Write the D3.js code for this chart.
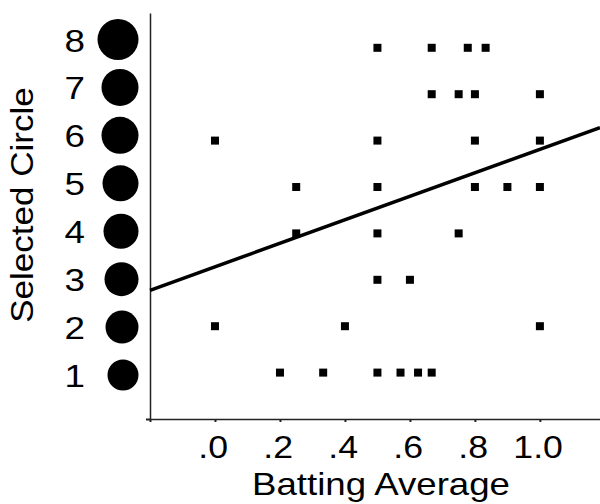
<!DOCTYPE html>
<html>
<head>
<meta charset="utf-8">
<script src="https://cdn.jsdelivr.net/npm/d3@7"></script>
<style>
  body { margin: 0; background: #fff; }
  svg { display: block; font-family: "Liberation Sans", Arial, sans-serif; }
</style>
</head>
<body>
<div id="chart"></div>
<script>
// data
const battingAverage = [
  0.5, 0.667, 0.778, 0.833,
  0.667, 0.75, 0.8, 1.0,
  0.0, 0.5, 0.8, 1.0,
  0.25, 0.5, 0.8, 0.9, 1.0,
  0.25, 0.5, 0.75,
  0.5, 0.6,
  0.0, 0.4, 1.0,
  0.2, 0.333, 0.5, 0.571, 0.625, 0.667
];
const selectedCircle = [
  8, 8, 8, 8,
  7, 7, 7, 7,
  6, 6, 6, 6,
  5, 5, 5, 5, 5,
  4, 4, 4,
  3, 3,
  2, 2, 2,
  1, 1, 1, 1, 1, 1
];
// fitted line as drawn in the picture
const fitIntercept = 3.28;
const fitSlope = 2.53;

// circle key: circle number and relative circle size
const circleIds = [1, 2, 3, 4, 5, 6, 7, 8];
const circleSizes = [31, 33, 34, 35, 36, 37, 37, 41];

const xTicks = [-0.2, 0, 0.2, 0.4, 0.6, 0.8, 1.0];

const width = 600;
const height = 504;
const plot = {left: 150, right: 600, top: 13, bottom: 419};

const svg = d3.select("#chart").append("svg")
  .attr("width", width)
  .attr("height", height);

// scales
const x = d3.scaleLinear().domain([-0.2, 1.185]).range([plot.left, plot.right]);
const y = d3.scaleLinear().domain([0, 8.75]).range([plot.bottom, plot.top]);
const keyY = d3.scaleLinear().domain([1, 8]).range([375, 39.5]);
const r = d3.scaleLinear().domain([0, 41]).range([0, 20.5]);

const fmt = d => d < 0 ? "" : (d >= 1 ? d3.format(".1f")(d) : d3.format(".1f")(d).replace(/^0/, ""));

// x axis
const xAxis = d3.axisBottom(x)
  .tickValues(xTicks)
  .tickSize(3)
  .tickSizeOuter(0)
  .tickFormat(fmt);

const gx = svg.append("g")
  .attr("transform", `translate(0,${plot.bottom})`)
  .call(xAxis);

gx.select(".domain").attr("stroke", "#222").attr("stroke-width", 1.5);
gx.selectAll(".tick line").attr("stroke", "#222").attr("stroke-width", 2);
gx.selectAll(".tick text")
  .attr("y", 39)
  .attr("dy", 0)
  .attr("dx", -2)
  .attr("fill", "#000")
  .attr("font-size", 31)
  .attr("transform", "scale(1.15,1)")
  .attr("font-family", "Liberation Sans, Arial, sans-serif");

// y axis line with the corner tick only
const yAxis = d3.axisLeft(y)
  .tickValues([0])
  .tickSize(4)
  .tickSizeOuter(0)
  .tickFormat("");

const gy = svg.append("g")
  .attr("transform", `translate(${plot.left},0)`)
  .call(yAxis);

gy.select(".domain").attr("stroke", "#222").attr("stroke-width", 1.5);
gy.selectAll(".tick line").attr("stroke", "#222").attr("stroke-width", 2);

// circle key on the left
const key = svg.append("g").attr("class", "key");

key.selectAll("circle")
  .data(circleIds)
  .enter().append("circle")
    .attr("cx", (d, i) => 138.5 - r(circleSizes[i]))
    .attr("cy", d => keyY(d))
    .attr("r", (d, i) => r(circleSizes[i]))
    .attr("fill", "#000");

key.selectAll("text")
  .data(circleIds)
  .enter().append("text")
    .attr("transform", d => `translate(85,${keyY(d) + 12}) scale(1.15,1)`)
    .attr("text-anchor", "end")
    .attr("font-size", 32)
    .attr("fill", "#000")
    .text(d => d);

// fitted line
const fitLine = d3.line()
  .x(d => x(d))
  .y(d => y(fitIntercept + fitSlope * d));

svg.append("path")
  .datum(x.domain())
  .attr("d", fitLine)
  .attr("fill", "none")
  .attr("stroke", "#000")
  .attr("stroke-width", 3.5);

// points
const size = 8;
svg.append("g")
  .selectAll("rect")
  .data(battingAverage)
  .enter().append("rect")
    .attr("x", d => x(d) - size / 2)
    .attr("y", (d, i) => y(selectedCircle[i]) - size / 2)
    .attr("width", size)
    .attr("height", size)
    .attr("fill", "#000");

// axis titles
svg.append("text")
  .attr("transform", "translate(381,495) scale(1.145,1)")
  .attr("text-anchor", "middle")
  .attr("font-size", 32)
  .attr("fill", "#000")
  .text("Batting Average");

svg.append("text")
  .attr("transform", "translate(33,205) rotate(-90) scale(1.13,1)")
  .attr("text-anchor", "middle")
  .attr("font-size", 31)
  .attr("fill", "#000")
  .text("Selected Circle");
</script>
</body>
</html>
